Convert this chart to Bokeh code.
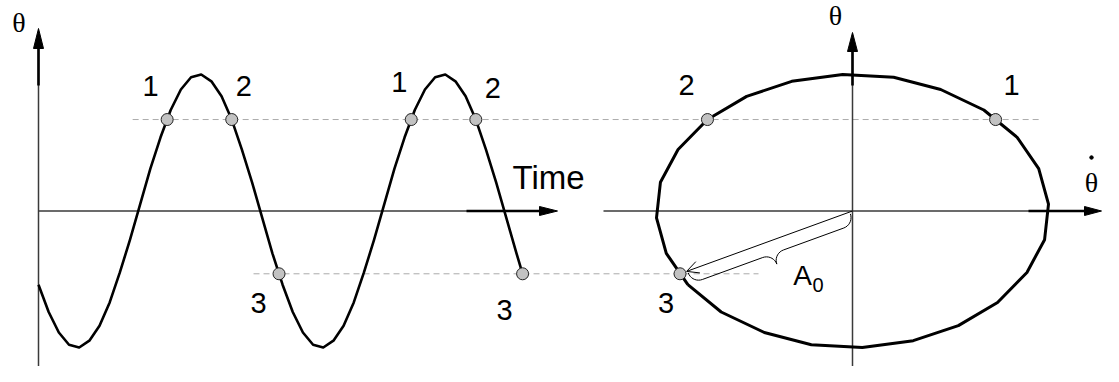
import numpy as np
from bokeh.plotting import figure
from bokeh.models import Range1d, Arrow, OpenHead
from bokeh.core.properties import value
from bokeh.embed import file_html
from bokeh.resources import INLINE

# ---------------- data ----------------
# time history of the oscillation theta(t), sampled every time unit
time = list(range(48)) + [47.6]
theta = [-0.54, -0.74, -0.89, -0.98, -1.00, -0.95, -0.84, -0.67, -0.45, -0.21,
         0.05, 0.31, 0.54, 0.74, 0.89, 0.98, 1.00, 0.95, 0.84, 0.67,
         0.45, 0.21, -0.05, -0.31,
         -0.54, -0.74, -0.89, -0.98, -1.00, -0.95, -0.84, -0.67, -0.45, -0.21,
         0.05, 0.31, 0.54, 0.74, 0.89, 0.98, 1.00, 0.95, 0.84, 0.67,
         0.45, 0.21, -0.05, -0.31, -0.46]

# phase-plane orbit (theta_dot, theta), closed polygon
orbit_theta_dot = [-0.84, -0.67, -0.45, -0.21, 0.05, 0.31, 0.54, 0.74, 0.89, 0.98,
                   1.00, 0.95, 0.84, 0.67, 0.45, 0.21, -0.05, -0.31, -0.54, -0.74,
                   -0.89, -0.98, -1.00, -0.95, -0.84]
orbit_theta = [-0.54, -0.74, -0.89, -0.98, -1.00, -0.95, -0.84, -0.67, -0.45, -0.21,
               0.05, 0.31, 0.54, 0.74, 0.89, 0.98, 1.00, 0.95, 0.84, 0.67,
               0.45, 0.21, -0.05, -0.31, -0.54]

# marked states on the time history
mark_labels = ["1", "2", "3", "1", "2", "3"]
mark_time = [12.65, 19.0, 23.65, 36.65, 43.0, 47.6]
mark_theta = [0.67, 0.67, -0.46, 0.67, 0.67, -0.46]

# the same states in the phase plane
phase_labels = ["1", "2", "3"]
phase_theta_dot = [0.73, -0.74, -0.88]
phase_theta = [0.67, 0.67, -0.46]

# ---------------- layout / scale constants (pixels) ----------------
W, H = 1103, 366
T_ORIGIN, T_PX = 38.0, 10.17        # time axis origin / px per unit
V_ORIGIN, V_PX = 852.0, 196.0       # theta_dot axis origin / px per unit
TH_ORIGIN, TH_PX = 210.5, 136.5     # theta origin / px per unit
BASE_FIX = 0.37                     # text baseline correction (em)


def t_of(px):
    return (px - T_ORIGIN) / T_PX


def px_t(t):
    return T_ORIGIN + t * T_PX


def v_of(px):
    return (px - V_ORIGIN) / V_PX


def px_v(v):
    return V_ORIGIN + v * V_PX


def th_of(py):
    return (TH_ORIGIN - py) / TH_PX


def py_th(th):
    return TH_ORIGIN - th * TH_PX


def fix(size):
    # data-unit lift so that the glyph baseline sits where intended
    return BASE_FIX * size / TH_PX


THIN = "#3a3a3a"
POINT_FILL = "#c2c2c2"
DASH = "#ababab"
DIGIT_FONT = value("Liberation Sans")
GREEK_FONT = value("Liberation Serif")
PH = "phase"

p = figure(width=W, height=H, x_range=Range1d(t_of(0), t_of(W)),
           y_range=Range1d(th_of(H), th_of(0)),
           output_backend="svg", toolbar_location=None,
           x_axis_type=None, y_axis_type=None, min_border=0)
p.extra_x_ranges = {PH: Range1d(v_of(0), v_of(W))}
p.outline_line_color = None
p.background_fill_color = "white"
p.border_fill_color = "white"


def draw_axis(fx, start, tip, thick_len, head_len, head_half, rn="default"):
    sx, sy = start
    tx, ty = tip
    L = np.hypot(tx - sx, ty - sy)
    dx, dy = (tx - sx) / L, (ty - sy) / L
    bx, by = tx - head_len * dx, ty - head_len * dy
    p.line([fx(sx), fx(bx)], [th_of(sy), th_of(by)], line_color=THIN,
           line_width=1.5, x_range_name=rn)
    kx, ky = bx - thick_len * dx, by - thick_len * dy
    p.line([fx(kx), fx(bx + 2 * dx)], [th_of(ky), th_of(by + 2 * dy)],
           line_color="black", line_width=2.6, x_range_name=rn)
    nx, ny = -dy, dx
    p.patch([fx(tx), fx(bx + head_half * nx), fx(bx - head_half * nx)],
            [th_of(ty), th_of(by + head_half * ny), th_of(by - head_half * ny)],
            fill_color="black", line_color="black", line_width=1, x_range_name=rn)


def label(xs, ys, texts, font, size, align="center", rn="default"):
    p.text(xs, [y + fix(size) for y in ys], text=texts, text_font=font,
           text_font_size=f"{size}px", text_align=align,
           text_baseline="alphabetic", text_color="black", x_range_name=rn)


# ================= left: time history =================
draw_axis(t_of, (px_t(0), 392), (px_t(0), 28), 37, 20, 5)
draw_axis(t_of, (px_t(0), py_th(0)), (557, py_th(0)), 73, 18, 4.5)

# dashed guides, running across to the phase plane
up_end = t_of(px_v(phase_theta_dot[0]) + 45)
lo_end = t_of(px_v(phase_theta_dot[2]) + 78.5)
p.line([mark_time[0] - 34.5 / T_PX, up_end], [mark_theta[0], mark_theta[0]],
       line_color=DASH, line_width=1, line_dash="6 4")
p.line([mark_time[2] - 25.5 / T_PX, lo_end], [mark_theta[2], mark_theta[2]],
       line_color=DASH, line_width=1, line_dash="6 4")

p.line(time, theta, line_color="black", line_width=2.6, line_join="round")
p.scatter(mark_time, mark_theta, size=12, fill_color=POINT_FILL,
          line_color="#222222", line_width=1)

mark_off = [(-16.7, -23), (12, -23), (-20.5, 40), (-12, -27), (17, -21), (-18, 47)]
lx = [t + dx / T_PX for t, (dx, dy) in zip(mark_time, mark_off)]
ly = [th - dy / TH_PX for th, (dx, dy) in zip(mark_theta, mark_off)]
label(lx, ly, mark_labels, DIGIT_FONT, 29)

label([t_of(557 - 45)], [th_of(TH_ORIGIN - 21.5)], ["Time"], DIGIT_FONT, 33, "left")
label([t_of(px_t(0) - 19.5)], [th_of(32)], ["θ"], GREEK_FONT, 28)

# ================= right: phase plane =================
draw_axis(v_of, (px_v(0), 392), (px_v(0), 32), 34, 19, 5, PH)
draw_axis(v_of, (603, py_th(0)), (1101, py_th(0)), 56, 17, 4.5, PH)

p.line(orbit_theta_dot, orbit_theta, line_color="black", line_width=3,
       line_join="round", x_range_name=PH)

# amplitude arrow and brace (geometry derived from state 3)
O = np.array([px_v(0), py_th(0)])
P3 = np.array([px_v(phase_theta_dot[2]), py_th(phase_theta[2])])
d = P3 - O
L = np.hypot(*d)
u = d / L
n = np.array([u[1], -u[0]])
tip = O + u * (L - 7)
p.add_layout(Arrow(end=OpenHead(size=12, line_width=1, line_color="black"),
                   x_start=0, y_start=0, x_end=v_of(tip[0]), y_end=th_of(tip[1]),
                   line_width=1, line_color="black", x_range_name=PH))

s0, s1, o0, r = 3.0, L - 8.0, 2.0, 11.0
sm = 0.5 * (s0 + s1)


def arc(cs, co, a0, a1, k=10):
    a = np.radians(np.linspace(a0, a1, k))
    return list(zip(cs + r * np.cos(a), co + r * np.sin(a)))


pts = []
pts += arc(s0 + r, o0, 180, 90)
pts += arc(sm - r, o0 + 2 * r, -90, 0)
pts += arc(sm + r, o0 + 2 * r, 180, 270)
pts += arc(s1 - r, o0, 90, 0)
bx = [v_of(O[0] + s * u[0] + o * n[0]) for s, o in pts]
by = [th_of(O[1] + s * u[1] + o * n[1]) for s, o in pts]
p.line(bx, by, line_color="black", line_width=1, x_range_name=PH)

p.scatter(phase_theta_dot, phase_theta, size=12, fill_color=POINT_FILL,
          line_color="#222222", line_width=1, x_range_name=PH)

phase_off = [(16, -24), (-21, -24), (-14, 40)]
qx = [v + dx / V_PX for v, (dx, dy) in zip(phase_theta_dot, phase_off)]
qy = [th - dy / TH_PX for th, (dx, dy) in zip(phase_theta, phase_off)]
label(qx, qy, phase_labels, DIGIT_FONT, 29, rn=PH)

# A0 label
label([phase_theta_dot[2] + 122.5 / V_PX], [phase_theta[2] - 11.7 / TH_PX], ["A"],
      DIGIT_FONT, 28, rn=PH)
label([phase_theta_dot[2] + 138 / V_PX], [phase_theta[2] - 18.7 / TH_PX], ["0"],
      DIGIT_FONT, 20, rn=PH)

# axis labels of the phase plane
label([v_of(835)], [th_of(25)], ["θ"], GREEK_FONT, 28, rn=PH)
label([v_of(1091)], [th_of(192)], ["θ"], GREEK_FONT, 28, rn=PH)
p.scatter([v_of(1091)], [th_of(157)], size=3.5, fill_color="black",
          line_color="black", x_range_name=PH)

open("out.html", "w").write(file_html(p, INLINE, title="Oscillation and phase plane"))
